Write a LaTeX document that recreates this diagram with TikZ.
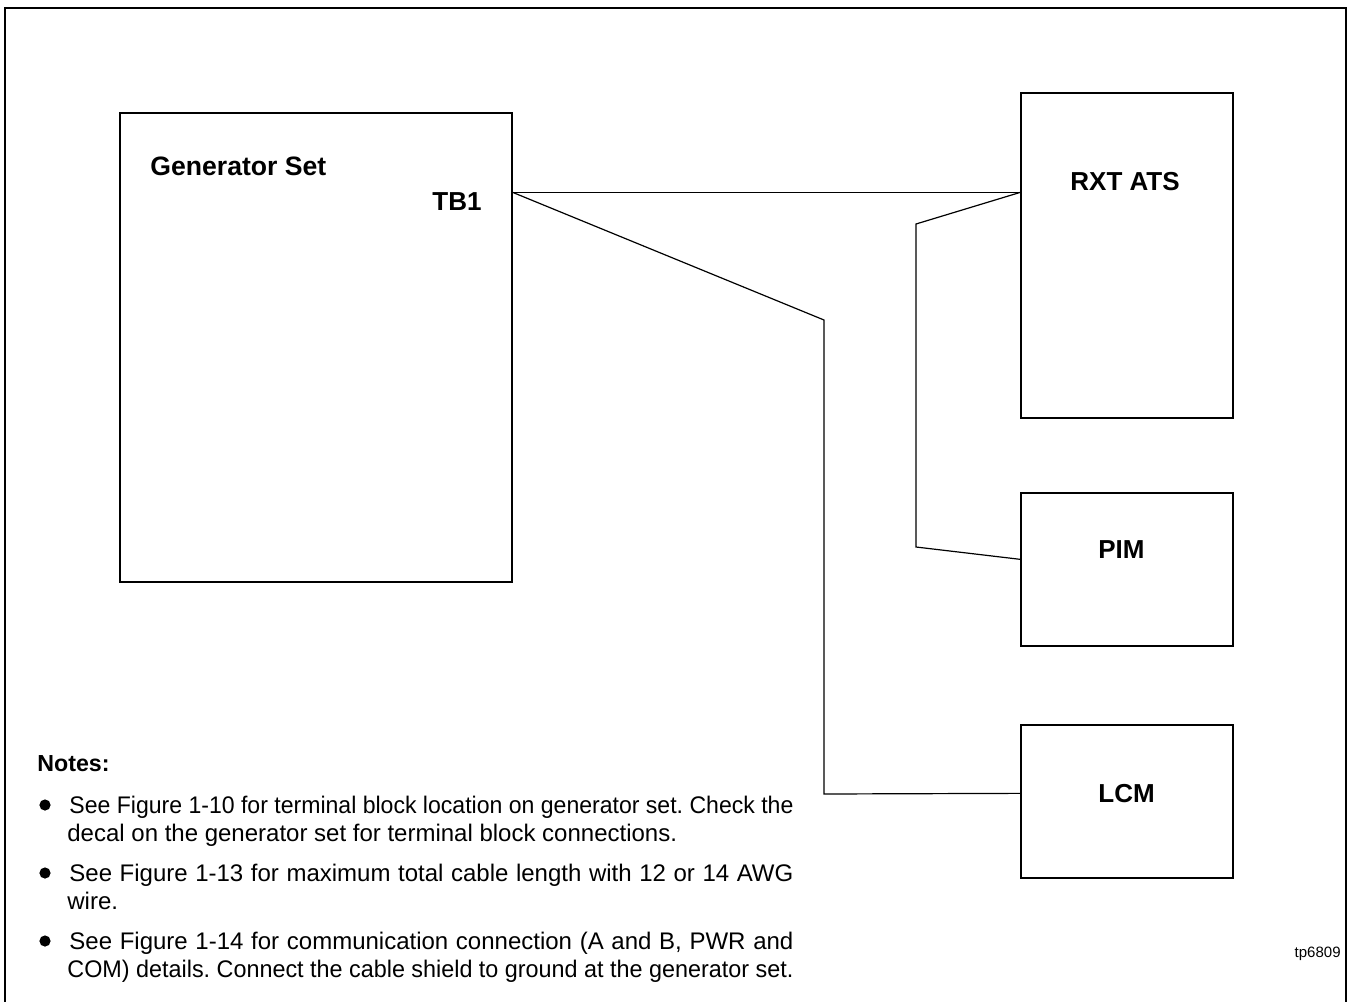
\documentclass[tikz,border=0pt]{standalone}
\usepackage{fontspec}
\setmainfont{Liberation Sans}
\usetikzlibrary{calc}
\frenchspacing
\begin{document}
\begin{tikzpicture}[x=0.5pt,y=-0.5pt,
  box/.style={draw, line width=0.65pt, rectangle, inner sep=0pt, minimum width=106pt},
  wire/.style={draw, line width=0.6pt},
  lbl/.style={font=\fontsize{13}{15}\selectfont\bfseries, inner sep=0pt},
  note/.style={font=\fontsize{12}{14}\selectfont, inner sep=0pt, anchor=base west},
  dot/.style={fill=black, circle, inner sep=0pt, minimum size=5.6pt}]
\useasboundingbox (0,0) rectangle (1351,1002);
\clip (0,0) rectangle (1351,1002);
% outer frame
\draw[line width=1.1pt] (5,8) rectangle (1346,1030);
% boxes
\node[box, minimum width=196pt, minimum height=234.5pt] (gen) at (316,347.5) {};
\node[box, minimum height=162.5pt] (rxt) at (1127,255.5) {};
\node[box, minimum height=76.5pt] (pim) at (1127,569.5) {};
\node[box, minimum height=76.5pt] (lcm) at (1127,801.5) {};
% labels
\node[lbl, font=\fontsize{13.3}{15}\selectfont\bfseries, anchor=base west] (genl) at (150,175) {Generator Set};
\node[lbl, anchor=base east] (tbl) at (482,210) {TB1};
\node[lbl, anchor=base west] (rxtl) at (1070,190) {RXT ATS};
\node[lbl, anchor=base west] (piml) at (1098,558) {PIM};
\node[lbl, anchor=base west] (lcml) at (1098,802) {LCM};
% connection points
\coordinate (tb) at ($(gen.north east)+(0,80)$);
\coordinate (rxtin) at ($(rxt.north west)+(0,100)$);
\coordinate (pimin) at ($(pim.north west)+(0,67)$);
\coordinate (lcmin) at ($(lcm.north west)+(0,69)$);
\coordinate (b1) at (824,320);
\coordinate (b2) at (824,794);
\coordinate (c1) at (916,224);
\coordinate (c2) at (916,547);
% wires
\draw[wire] (tb) -- (rxtin);
\draw[wire] (tb) -- (b1) -- (b2) -- (lcmin);
\draw[wire] (rxtin) -- (c1) -- (c2) -- (pimin);
% notes
\node[lbl, font=\fontsize{11.6}{14}\selectfont\bfseries, anchor=base west] (notes) at (37,771) {Notes:};
\node[dot] (d1) at (45,805) {};
\node[dot] (d2) at (45,873) {};
\node[dot] (d3) at (45,941) {};
\node[note] (n1a) at (69,813) {\resizebox{362pt}{\height}{See Figure 1-10 for terminal block location on generator set. Check the}};
\node[note] (n1b) at (67,841) {decal on the generator set for terminal block connections.};
\node[note] (n2a) at (69,881) {\makebox[362pt][s]{See Figure 1-13 for maximum total cable length with 12 or 14 AWG}};
\node[note] (n2b) at (67,909) {wire.};
\node[note] (n3a) at (69,949) {\makebox[362pt][s]{See Figure 1-14 for communication connection (A and B, PWR and}};
\node[note] (n3b) at (67,977) {\resizebox{363pt}{\height}{COM) details. Connect the cable shield to ground at the generator set.}};
\node[font=\fontsize{7.5}{9}\selectfont, inner sep=0pt, anchor=base east] (tp) at (1341,957) {tp6809};
\end{tikzpicture}
\end{document}
